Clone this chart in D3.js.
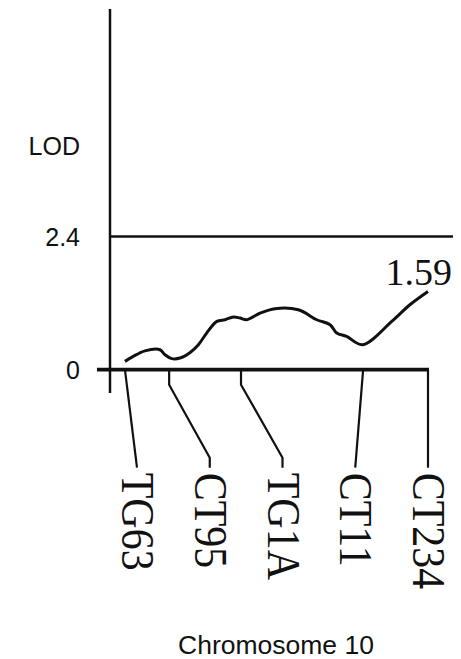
<!DOCTYPE html>
<html>
<head>
<meta charset="utf-8">
<script src="https://cdn.jsdelivr.net/npm/d3@7"></script>
<style>
	body { margin:0; background:#fff; }
	.sans { font-family: "Liberation Sans", Arial, sans-serif; fill:#111; }
	.serif { font-family: "Liberation Serif", "Times New Roman", serif; fill:#111; }
</style>
</head>
<body>
<div id="chart"></div>
<script>
// map position of each marker (0 = LOD axis, 100 = last marker)
var markers = ["TG63", "CT95", "TG1A", "CT11", "CT234"];
var markerPos = [4.7, 18.6, 41.2, 79.6, 100];

// LOD profile along the chromosome
var curvePos = [4.7, 7.3, 11.0, 15.7, 17.3, 19.4, 22.0, 25.2, 27.8, 30.4, 33.6, 36.2, 38.8, 40.9, 43.0, 47.2, 51.9, 59.2, 65.0, 69.2, 71.3, 74.4, 79.4, 88.6, 94.3, 100];
var curveLod = [0.15, 0.24, 0.34, 0.36, 0.27, 0.20, 0.21, 0.31, 0.45, 0.66, 0.87, 0.90, 0.95, 0.93, 0.90, 1.02, 1.10, 1.08, 0.90, 0.81, 0.66, 0.60, 0.45, 0.87, 1.17, 1.41];

var yTicks = [0, 2.4];
var threshold = 2.4;
var peakLabel = "1.59";

(function(){
	var width = 461,
	height = 659;

	var svg = d3.select("#chart")
	.append("svg")
	.attr("width", width)
	.attr("height", height)

	var x = d3.scaleLinear()
		.domain([0, 100])
		.range([110, 428])

	var y = d3.scaleLinear()
		.domain([-0.42, 6.5])
		.range([393, 9])

	// labels sit evenly spaced under the axis
	var labelX = d3.scalePoint()
		.domain(markers)
		.range([137, 428])

	var ink = "#111";

	// LOD axis
	svg.append("line")
		.attr("x1", x(0)).attr("x2", x(0))
		.attr("y1", y(-0.42)).attr("y2", y(6.5))
		.style("stroke", ink)
		.style("stroke-width", "2.5px")

	// threshold line
	svg.append("line")
		.attr("x1", x(0)).attr("x2", 453)
		.attr("y1", y(threshold)).attr("y2", y(threshold))
		.style("stroke", ink)
		.style("stroke-width", "2.4px")

	// chromosome line
	svg.append("line")
		.attr("x1", x(-4.1)).attr("x2", x(100) + 1)
		.attr("y1", y(0)).attr("y2", y(0))
		.style("stroke", ink)
		.style("stroke-width", "3.8px")

	svg.selectAll(".tick_lbl")
		.data(yTicks)
		.enter().append("text")
		.attr("class", "tick_lbl sans")
		.attr("x", 80)
		.attr("y", function(d){ return y(d); })
		.attr("dy", "0.37em")
		.attr("text-anchor", "end")
		.style("font-size", "25px")
		.text(function(d){ return d; })

	svg.append("text")
		.attr("class", "sans")
		.attr("x", 80)
		.attr("y", 155)
		.attr("text-anchor", "end")
		.style("font-size", "25px")
		.text("LOD")

	// marker leaders: drop from the axis, bend over to the label
	var leader = d3.line()
	var mk = markers.map(function(m, i){ return {name:m, pos:markerPos[i]}; })

	svg.selectAll(".leader")
		.data(mk)
		.enter().append("path")
		.attr("class", "leader")
		.attr("d", function(d){
			var x0 = x(d.pos), x1 = labelX(d.name), y0 = y(0);
			var pts;
			if (Math.abs(x1 - x0) > 20) {
				pts = [[x0, y0], [x0, y0 + 15], [x1, y0 + 88], [x1, y0 + 98]];
			} else {
				pts = [[x0, y0], [x1, y0 + 98]];
			}
			return leader(pts);
		})
		.style("fill", "none")
		.style("stroke", ink)
		.style("stroke-width", "2.2px")

	svg.selectAll(".mk_lbl")
		.data(mk)
		.enter().append("text")
		.attr("class", "mk_lbl serif")
		.attr("transform", function(d){
			return "translate(" + (labelX(d.name) - 15) + "," + (y(0) + 103) + ") rotate(90) scale(1,1.1)";
		})
		.style("font-size", "42px")
		.text(function(d){ return d.name; })

	// LOD curve
	var pts = curvePos.map(function(p, i){ return [p, curveLod[i]]; })
	svg.append("path")
		.datum(pts)
		.attr("d", d3.line()
			.x(function(d){ return x(d[0]); })
			.y(function(d){ return y(d[1]); })
			.curve(d3.curveCatmullRom))
		.style("fill", "none")
		.style("stroke", ink)
		.style("stroke-width", "3px")
		.style("stroke-linejoin", "round")

	svg.append("text")
		.attr("class", "serif")
		.attr("x", 452)
		.attr("y", 285)
		.attr("text-anchor", "end")
		.style("font-size", "38px")
		.text(peakLabel)

	svg.append("text")
		.attr("class", "sans")
		.attr("x", 178)
		.attr("y", 654)
		.style("font-size", "26.5px")
		.text("Chromosome 10")
})();
</script>
</body>
</html>
